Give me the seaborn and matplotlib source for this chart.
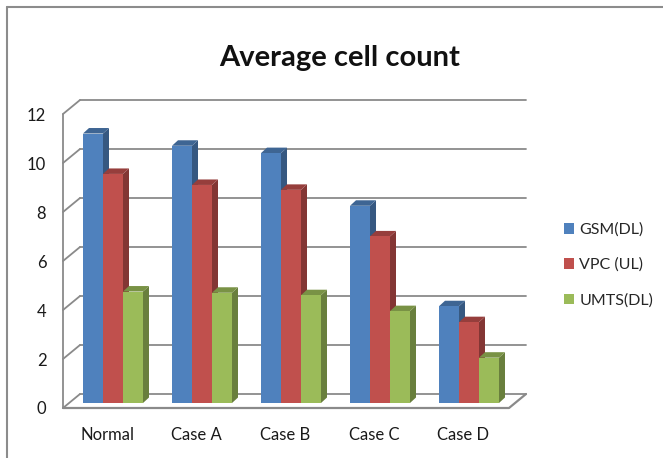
import numpy as np
import pandas as pd
import matplotlib
matplotlib.use("Agg")
import matplotlib.pyplot as plt
import seaborn as sns
from matplotlib.patches import Polygon
from matplotlib.colors import to_rgb

cases = ["Normal", "Case A", "Case B", "Case C", "Case D"]
series = ["GSM(DL)", "VPC (UL)", "UMTS(DL)"]
gsm = [11.0, 10.5, 10.2, 8.05, 3.95]
vpc = [9.35, 8.9, 8.7, 6.8, 3.3]
umts = [4.55, 4.5, 4.4, 3.75, 1.85]
yticks = [0, 2, 4, 6, 8, 10, 12]
colors = ["#4F81BD", "#C0504D", "#9BBB59"]

df = pd.DataFrame({
    "case": cases * 3,
    "series": [series[0]] * 5 + [series[1]] * 5 + [series[2]] * 5,
    "count": gsm + vpc + umts,
})

sns.set_style("white")
plt.rcParams["font.family"] = ["Lato", "DejaVu Sans"]

W, H = 663, 458
fig = plt.figure(figsize=(W / 100, H / 100), dpi=100)
# axes area = front plane of the pseudo-3D box (pixels)
ax = fig.add_axes([63 / W, (H - 408) / H, (526 - 63) / W, (408 - 97) / H])

sns.barplot(data=df, x="case", y="count", hue="series", palette=colors,
            width=0.674, gap=0, saturation=1, linewidth=0, ax=ax)

xl, xr = -0.5618, 4.6404
ax.set_xlim(xl, xr)
ax.set_ylim(-0.204, 12.49)

# depth offsets (data units)
ddx, ddy = 0.191, 0.571     # wall depth
fdx, fdy = -0.067, -0.204   # floor front relative to bar fronts
bwy = fdy + ddy
bdx, bdy = 0.0674, 0.224    # bar depth

grid_c = "#8a8a8a"
for v in yticks:
    ax.plot([xl + ddx, xr], [v + bwy, v + bwy], color=grid_c, lw=1.3, zorder=1, clip_on=False)
    ax.plot([xl, xl + ddx], [v + fdy, v + bwy], color=grid_c, lw=1.3, zorder=1, clip_on=False)
ax.plot([xl, xl], [fdy, 12 + fdy], color=grid_c, lw=1.3, zorder=1, clip_on=False)
ax.plot([xl, xr - ddx, xr], [fdy, fdy, bwy], color=grid_c, lw=1.6, zorder=1, clip_on=False)

# 3D sides and tops for each bar
bars = sorted([p for p in ax.patches if p.get_height() > 0], key=lambda p: p.get_x())
for k, p in enumerate(bars):
    x, w, h = p.get_x(), p.get_width(), p.get_height()
    c = np.array(to_rgb(p.get_facecolor()))
    z = 3 + 0.01 * k
    side = Polygon([(x + w, 0), (x + w + bdx, bdy), (x + w + bdx, h + bdy), (x + w, h)],
                   closed=True, facecolor=c * 0.68, edgecolor="none", zorder=z)
    top = Polygon([(x, h), (x + bdx, h + bdy), (x + w + bdx, h + bdy), (x + w, h)],
                  closed=True, facecolor=c * 0.78, edgecolor="none", zorder=z)
    ax.add_patch(side)
    ax.add_patch(top)
    p.set_zorder(z + 0.005)

for s in ax.spines.values():
    s.set_visible(False)

ax.set_yticks([v + fdy for v in yticks], [str(v) for v in yticks])
ax.set_xticks([i + fdx for i in range(len(cases))], cases)
ax.tick_params(axis="y", length=0, pad=12, labelsize=12, colors="#1a1a1a")
ax.tick_params(axis="x", length=0, pad=14, labelsize=12, colors="#1a1a1a")
ax.set_xlabel("")
ax.set_ylabel("")

handles, labels = ax.get_legend_handles_labels()
ax.get_legend().remove()
fig.legend(handles, labels, loc="center left", bbox_to_anchor=(564 / W, (H - 265) / H),
           frameon=False, fontsize=11.5, handlelength=0.6, handleheight=0.6,
           handletextpad=0.35, labelspacing=1.3, borderpad=0, borderaxespad=0)

fig.text(340 / W, (H - 58) / H, "Average cell count", ha="center", va="center",
         fontsize=21, fontweight="bold", color="#111111")

# chart border
fig.add_artist(plt.Line2D([7 / W, 7 / W], [0, (H - 7) / H], color="#8c8c8c", lw=1.5))
fig.add_artist(plt.Line2D([7 / W, 1], [(H - 7) / H, (H - 7) / H], color="#8c8c8c", lw=1.5))

fig.savefig("out.png", dpi=100)
